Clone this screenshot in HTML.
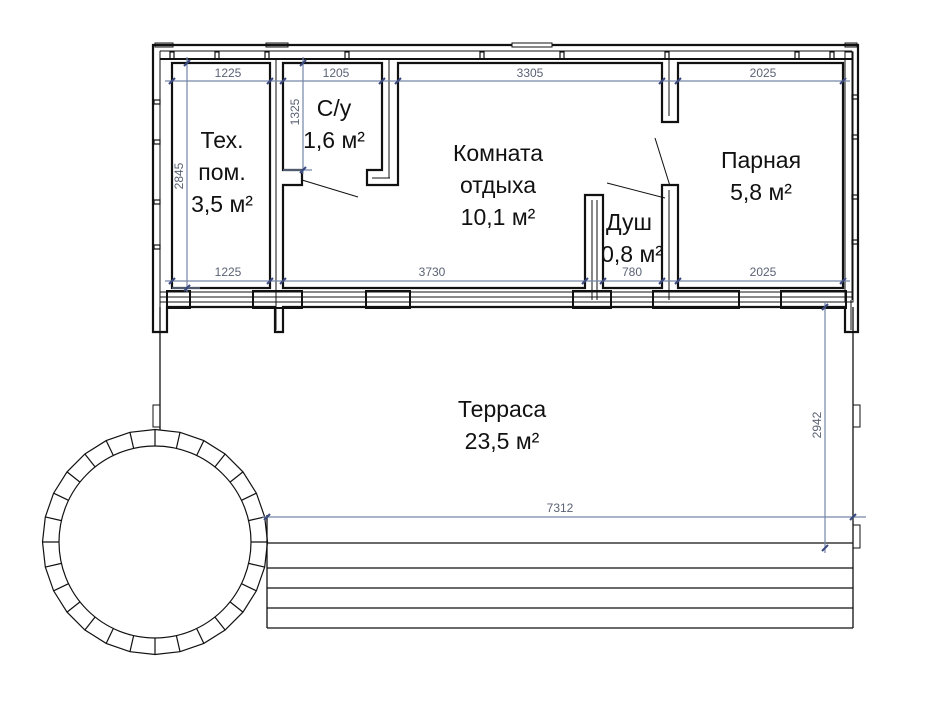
<!DOCTYPE html>
<html><head><meta charset="utf-8">
<style>
html,body{margin:0;padding:0;background:#fff;}
svg{display:block;}
.t{font-family:"Liberation Sans","DejaVu Sans",sans-serif;font-size:23px;fill:#111;text-anchor:middle;}
.d{font-family:"Liberation Sans","DejaVu Sans",sans-serif;font-size:12px;fill:#5a6275;text-anchor:middle;}
</style></head>
<body>
<svg id="s" width="952" height="725" viewBox="0 0 952 725" xmlns="http://www.w3.org/2000/svg">
<g fill="none" stroke="#111">
  <polygon stroke-width="2.2" points="153,45 858,45 858,332 845,332 845,307 283,307 283,332 275,332 275,307 167,307 167,332 153,332"/>
  <line x1="160" y1="51" x2="852" y2="51" stroke-width="1"/>
  <line x1="160" y1="59" x2="852" y2="59" stroke-width="2"/>
  <line x1="160" y1="51" x2="160" y2="300" stroke-width="1"/>
  <line x1="852" y1="51" x2="852" y2="300" stroke-width="1"/>
  <line x1="160" y1="292" x2="852" y2="292" stroke-width="1"/>
  <line x1="160" y1="297" x2="852" y2="297" stroke-width="1"/>
  <line x1="160" y1="302" x2="852" y2="302" stroke-width="1"/>
  <rect x="172" y="63" width="98" height="225" stroke-width="2.2"/>
  <polygon stroke-width="2.2" points="283,63 382,63 382,170 367,170 367,185 398,185 398,63 662,63 662,122 678,122 678,63 843,63 843,288 678,288 678,185 662,185 662,288 603,288 603,195 585,195 585,288 283,288 283,185 302,185 302,170 283,170"/>
  <!-- partition inner lines -->
  <g stroke-width="1">
    <line x1="276" y1="59" x2="276" y2="330"/>
    <line x1="389" y1="59" x2="389" y2="178"/>
    <line x1="390" y1="178" x2="372" y2="178"/>
    <line x1="669" y1="59" x2="669" y2="116"/>
    <line x1="669" y1="190" x2="669" y2="300"/>
    <line x1="592" y1="200" x2="592" y2="300"/>
    <line x1="597" y1="200" x2="597" y2="300"/>
    <line x1="160" y1="300" x2="160" y2="330"/>
    <line x1="851" y1="300" x2="851" y2="330"/>
  </g>
  <g stroke-width="2">
    <rect x="167" y="291" width="23" height="17"/>
    <rect x="253" y="291" width="49" height="17"/>
    <rect x="366" y="291" width="44" height="17"/>
    <rect x="573" y="291" width="38" height="17"/>
    <rect x="653" y="291" width="86" height="17"/>
    <rect x="781" y="291" width="65" height="17"/>
    <rect x="845" y="52" width="8" height="250" stroke-width="1"/>
  </g>
  <rect x="512" y="43" width="40" height="4" fill="#fff" stroke-width="1"/>
  <rect x="155" y="43" width="18" height="4" stroke-width="1"/>
  <rect x="266" y="43" width="22" height="4" stroke-width="1"/>
  <rect x="845" y="43" width="12" height="4" stroke-width="1"/>
  <g stroke-width="1.2" id="ticks"></g>
  <line x1="302" y1="180" x2="358" y2="197" stroke-width="1"/>
  <line x1="607" y1="183" x2="665" y2="198" stroke-width="1"/>
  <line x1="655" y1="138" x2="670" y2="186" stroke-width="1"/>
  <line x1="160" y1="307" x2="160" y2="430" stroke-width="1.3"/>
  <line x1="853" y1="307" x2="853" y2="628" stroke-width="1.3"/>
  <rect x="153" y="405" width="7" height="22" stroke-width="1"/>
  <rect x="853" y="405" width="7" height="22" stroke-width="1"/>
  <rect x="853" y="525" width="7" height="23" stroke-width="1"/>
  <g stroke-width="1.3">
    <line x1="267" y1="543" x2="853" y2="543"/>
    <line x1="267" y1="568" x2="853" y2="568"/>
    <line x1="267" y1="588" x2="853" y2="588"/>
    <line x1="267" y1="608" x2="853" y2="608"/>
    <line x1="267" y1="628" x2="853" y2="628"/>
    <line x1="267" y1="515" x2="267" y2="628"/>
  </g>
  <g id="circ" stroke-width="1.2"></g>
</g>
<g stroke="#7686a8" stroke-width="1.2" fill="none">
  <line x1="165" y1="81" x2="850" y2="81"/>
  <line x1="165" y1="281" x2="850" y2="281"/>
  <line x1="187" y1="57" x2="187" y2="292"/>
  <line x1="303" y1="57" x2="303" y2="174"/>
  <line x1="262" y1="517" x2="866" y2="517"/>
  <line x1="825" y1="302" x2="825" y2="553"/>
  <line x1="172" y1="288" x2="200" y2="288"/>
  <line x1="283" y1="170" x2="312" y2="170"/>
</g>
<g stroke="#3a4a80" stroke-width="2">
  <g id="dt"></g>
</g>
<g class="d">
  <text x="228" y="77">1225</text><text x="336" y="77">1205</text>
  <text x="530" y="77">3305</text><text x="763" y="77">2025</text>
  <text x="228" y="276">1225</text><text x="432" y="276">3730</text>
  <text x="632" y="276">780</text><text x="763" y="276">2025</text>
  <text x="560" y="512">7312</text>
  <text transform="translate(183,176) rotate(-90)">2845</text>
  <text transform="translate(299,112) rotate(-90)">1325</text>
  <text transform="translate(821,425) rotate(-90)">2942</text>
</g>
<g class="t">
  <text x="222" y="148">Тех.</text><text x="222" y="180">пом.</text><text x="222" y="212">3,5 м²</text>
  <text x="334" y="116">С/у</text><text x="334" y="148">1,6 м²</text>
  <text x="498" y="161">Комната</text><text x="498" y="193">отдыха</text><text x="498" y="225">10,1 м²</text>
  <text x="761" y="168">Парная</text><text x="761" y="200">5,8 м²</text>
  <text x="629" y="230">Душ</text><text x="632" y="262">0,8 м²</text>
  <text x="502" y="417">Терраса</text><text x="502" y="449">23,5 м²</text>
</g>
</svg>
<script>
var ns="http://www.w3.org/2000/svg";
function el(p,n,a){var e=document.createElementNS(ns,n);for(var k in a)e.setAttribute(k,a[k]);p.appendChild(e);return e;}
var c=document.getElementById("circ"),cx=155,cy=542,R=112.5,r=96,N=28,po=[];
for(var i=0;i<N;i++){var a=i*2*Math.PI/N;var x1=cx+R*Math.sin(a),y1=cy-R*Math.cos(a),x2=cx+r*Math.sin(a),y2=cy-r*Math.cos(a);
po.push(x1.toFixed(1)+","+y1.toFixed(1));
el(c,"line",{x1:x1,y1:y1,x2:x2,y2:y2});}
el(c,"polygon",{points:po.join(" ")});
el(c,"circle",{cx:cx,cy:cy,r:r});
var t=document.getElementById("ticks");
[170,215,265,345,480,560,665,795,830].forEach(function(x){el(t,"rect",{x:x,y:52,width:4,height:7});});
[100,140,200,245].forEach(function(y){el(t,"rect",{x:154,y:y,width:6,height:4});el(t,"rect",{x:852,y:y-5,width:6,height:4});});
var d=document.getElementById("dt");
[[172,81],[270,81],[283,81],[382,81],[398,81],[662,81],[678,81],[843,81],[172,281],[270,281],[283,281],[585,281],[603,281],[662,281],[678,281],[843,281],[187,63],[187,288],[303,63],[303,170],[267,517],[853,517],[825,307],[825,548]].forEach(function(p){el(d,"line",{x1:p[0]-3,y1:p[1]+3,x2:p[0]+3,y2:p[1]-3});});
</script>
</body></html>
